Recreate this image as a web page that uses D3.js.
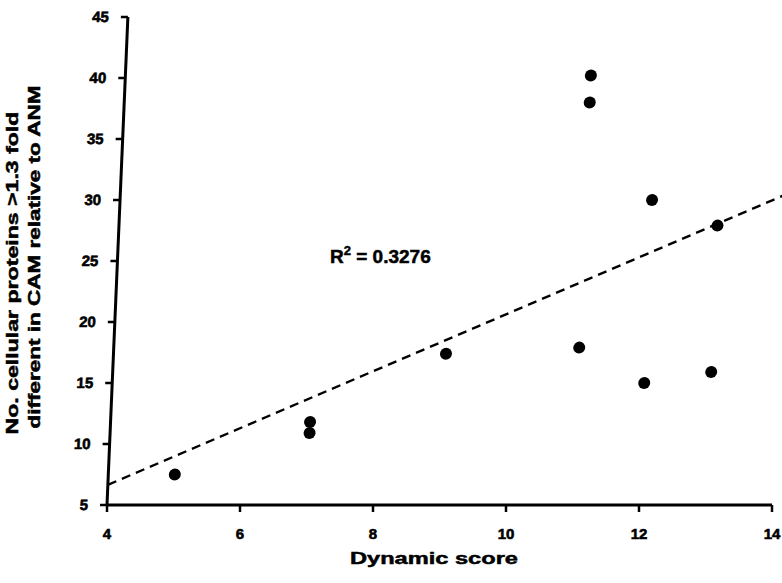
<!DOCTYPE html>
<html>
<head>
<meta charset="utf-8">
<script src="https://cdn.jsdelivr.net/npm/d3@7"></script>
<style>
  html, body { margin: 0; padding: 0; background: #fff; }
  svg { display: block; }
</style>
</head>
<body>
<svg id="chart" width="782" height="583"></svg>
<script>
// Dynamic score vs. number of cellular proteins changed >1.3 fold (CAM vs ANM)
const dynamicScore = [5, 7, 7, 9, 11, 11, 11, 12, 12, 13, 13];
const proteinCount = [7.5, 11.8, 10.9, 17.4, 17.9, 40.2, 38.0, 15.0, 30.0, 15.9, 27.9];
const xTicks = [4, 6, 8, 10, 12, 14];
const yTicks = [5, 10, 15, 20, 25, 30, 35, 40, 45];
const r2Label = "0.3276";

const FONT = "'Liberation Sans', Arial, Helvetica, sans-serif";
const svg = d3.select("#chart");
const plotLeft = 107, plotRight = 772, plotTop = 17, plotBottom = 505;

const x = d3.scaleLinear().domain([4, 14]).range([plotLeft, plotRight]);
const y = d3.scaleLinear().domain([5, 45]).range([plotBottom, plotTop]);

// The plotted figure leans slightly: shear the plot about the x-axis baseline
const lean = -2.45;
const plot = svg.append("g")
  .attr("transform", `translate(0,${plotBottom}) skewX(${lean}) translate(0,${-plotBottom})`);

// Least-squares trend line over the axis range
const n = dynamicScore.length;
const mx = d3.mean(dynamicScore), my = d3.mean(proteinCount);
let sxy = 0, sxx = 0;
for (let i = 0; i < n; i++) {
  sxy += (dynamicScore[i] - mx) * (proteinCount[i] - my);
  sxx += (dynamicScore[i] - mx) ** 2;
}
const slope = sxy / sxx, intercept = my - slope * mx;
const trend = x.domain().map(v => [v, intercept + slope * v]);

plot.append("path")
  .datum(trend)
  .attr("d", d3.line().x(d => x(d[0])).y(d => y(d[1])))
  .attr("fill", "none")
  .attr("stroke", "#000")
  .attr("stroke-width", 2.4)
  .attr("stroke-dasharray", "9,6");

// Points
plot.append("g").selectAll("circle")
  .data(dynamicScore.map((d, i) => [d, proteinCount[i]]))
  .join("circle")
  .attr("cx", d => x(d[0]))
  .attr("cy", d => y(d[1]))
  .attr("r", 6)
  .attr("fill", "#000");

// Y axis (leans with the plot)
const yAxis = plot.append("g").attr("class", "y-axis");
yAxis.append("line")
  .attr("x1", x(4)).attr("x2", x(4))
  .attr("y1", y(5)).attr("y2", y(45))
  .attr("stroke", "#000").attr("stroke-width", 3);
yAxis.selectAll("line.tick").data(yTicks).join("line")
  .attr("class", "tick")
  .attr("x1", x(4) - 7).attr("x2", x(4))
  .attr("y1", d => y(d)).attr("y2", d => y(d))
  .attr("stroke", "#000").attr("stroke-width", 2.5);
yAxis.selectAll("text").data(yTicks).join("text")
  .attr("x", x(4) - 19).attr("y", d => y(d)).attr("dy", "0.35em")
  .attr("text-anchor", "end")
  .attr("font-family", FONT).attr("font-weight", "bold").attr("font-size", 15)
  .attr("fill", "#000").attr("stroke", "#000").attr("stroke-width", 0.6)
  .text(d => d);

// X axis lies on the shear baseline
const xAxis = svg.append("g").attr("class", "x-axis");
xAxis.append("line")
  .attr("x1", x(4)).attr("x2", x(14))
  .attr("y1", y(5)).attr("y2", y(5))
  .attr("stroke", "#000").attr("stroke-width", 3);
xAxis.selectAll("line.tick").data(xTicks).join("line")
  .attr("class", "tick")
  .attr("x1", d => x(d)).attr("x2", d => x(d))
  .attr("y1", y(5)).attr("y2", y(5) + 7)
  .attr("stroke", "#000").attr("stroke-width", 2.5);
xAxis.selectAll("text").data(xTicks).join("text")
  .attr("x", d => x(d)).attr("y", y(5) + 34)
  .attr("text-anchor", "middle")
  .attr("font-family", FONT).attr("font-weight", "bold").attr("font-size", 15)
  .attr("fill", "#000").attr("stroke", "#000").attr("stroke-width", 0.6)
  .text(d => d);

// R-squared annotation
const r2 = svg.append("text")
  .attr("x", 330).attr("y", 263)
  .attr("font-family", FONT).attr("font-weight", "bold").attr("font-size", 19)
  .attr("fill", "#000").attr("stroke", "#000").attr("stroke-width", 0.5);
r2.append("tspan").text("R");
r2.append("tspan").attr("dy", -8).attr("font-size", 13).text("2");
r2.append("tspan").attr("dy", 8).text(" = " + r2Label);

// Axis titles
svg.append("text")
  .attr("x", 434).attr("y", 564)
  .attr("text-anchor", "middle")
  .attr("textLength", 168)
  .attr("lengthAdjust", "spacingAndGlyphs")
  .attr("font-family", FONT).attr("font-weight", "bold").attr("font-size", 17)
  .attr("fill", "#000").attr("stroke", "#000").attr("stroke-width", 0.5)
  .text("Dynamic score");

const yTitle = [
  { text: "No. cellular proteins >1.3 fold", cx: 18, cy: 273, len: 323 },
  { text: "different in CAM relative to ANM", cx: 40, cy: 257, len: 343 }
];
svg.append("g").selectAll("text")
  .data(yTitle)
  .join("text")
  .attr("transform", d => `translate(${d.cx},${d.cy}) rotate(-90)`)
  .attr("text-anchor", "middle")
  .attr("textLength", d => d.len)
  .attr("lengthAdjust", "spacingAndGlyphs")
  .attr("font-family", FONT).attr("font-weight", "bold").attr("font-size", 17)
  .attr("fill", "#000").attr("stroke", "#000").attr("stroke-width", 0.5)
  .text(d => d.text);
</script>
</body>
</html>
